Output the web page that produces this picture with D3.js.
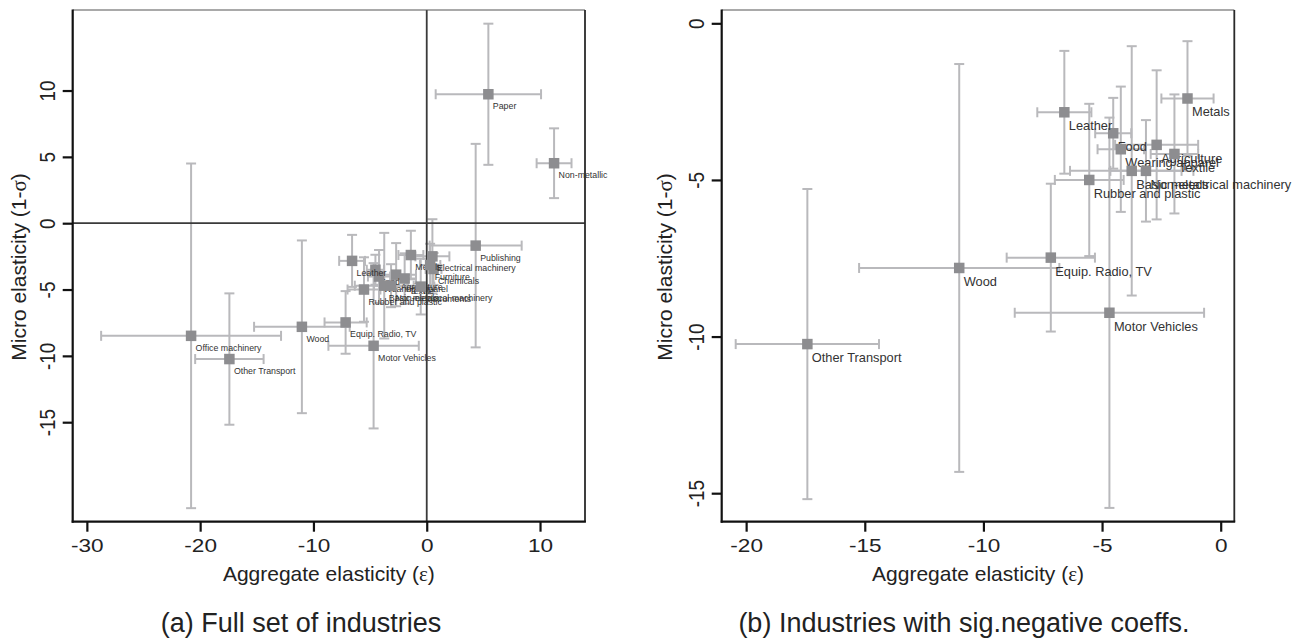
<!DOCTYPE html>
<html><head><meta charset="utf-8">
<script src="https://cdn.jsdelivr.net/npm/d3@7"></script>
<style>body{margin:0;background:#fff} svg{display:block}</style>
</head><body><svg id="chart" width="1305" height="638"></svg>
<script>
// ---- data ----
const industries = ["Agriculture","Food","Textile","Wearing apparel","Leather","Wood","Paper","Publishing",
  "Chemicals","Rubber and plastic","Non-metallic","Basic metals","Metals","Non-electrical machinery",
  "Office machinery","Electrical machinery","Equip. Radio, TV","Instruments","Motor Vehicles","Other Transport","Furniture"];
const aggElasticity   = [-2.70,-4.53,-1.95,-4.21,-6.59,-11.02, 5.44, 4.32, 0.60,-5.54,11.24,-3.75,-1.40,-3.15,-20.80, 0.50,-7.16,-0.53,-4.69,-17.42, 0.30];
const microElasticity = [-3.88,-3.51,-4.17,-4.02,-2.84, -7.81, 9.72,-1.69,-3.45,-5.00, 4.52,-4.71,-2.40,-4.71, -8.49,-2.50,-7.48,-4.78,-9.24,-10.24,-3.15];
const aggHalfCI       = [ 1.75, 0.76, 1.00, 0.98, 1.14,  4.22, 4.65, 4.06, 0.70, 1.45, 1.54, 2.60, 1.10, 1.50,  7.94, 1.50, 1.86, 1.20, 3.99,  3.02, 0.90];
const microHalfCI     = [ 2.38, 1.13, 1.90, 2.00, 1.96,  6.51, 5.32, 7.67, 1.20, 2.43, 2.63, 3.98, 1.83, 1.62, 12.99, 2.80, 2.36, 2.10, 6.23,  4.95, 1.60];
const sigNegative = ["Agriculture","Food","Textile","Wearing apparel","Leather","Wood","Rubber and plastic",
  "Basic metals","Metals","Non-electrical machinery","Equip. Radio, TV","Motor Vehicles","Other Transport"];

const xTicksA = [-30,-20,-10,0,10];
const yTicksA = [10,5,0,-5,-10,-15];
const xTicksB = [-20,-15,-10,-5,0];
const yTicksB = [0,-5,-10,-15];
const xDomainA = [-31.25, 13.97], yDomainA = [-22.5, 16.07];
const xDomainB = [-21.03, 0.573], yDomainB = [-15.91, 0.425];
const captionA = "(a) Full set of industries";
const captionB = "(b) Industries with sig.negative coeffs.";

const rows = industries.map((n,i)=>({name:n, x:aggElasticity[i], y:microElasticity[i], xh:aggHalfCI[i], yh:microHalfCI[i]}));

const svg = d3.select("#chart");
const FONT = "'Liberation Sans', Arial, Helvetica, sans-serif";
const BAR = "#b9b9bc", MARK = "#8d8d90", INK = "#222";

function panel(cfg){
  const {left,right,top,bottom} = cfg;
  const x = d3.scaleLinear().domain(cfg.xDomain).range([left,right]);
  const y = d3.scaleLinear().domain(cfg.yDomain).range([bottom,top]);
  const g = svg.append("g");
  const data = cfg.data;
  const cap = 5;

  // error bars
  const eb = g.append("g").attr("stroke",BAR).attr("stroke-width",2).attr("fill","none");
  data.forEach(d=>{
    const x0=x(d.x-d.xh), x1=x(d.x+d.xh), yy=y(d.y);
    const y0=y(d.y-d.yh), y1=y(d.y+d.yh), xx=x(d.x);
    eb.append("line").attr("x1",x0).attr("x2",x1).attr("y1",yy).attr("y2",yy);
    eb.append("line").attr("x1",x0).attr("x2",x0).attr("y1",yy-cap).attr("y2",yy+cap);
    eb.append("line").attr("x1",x1).attr("x2",x1).attr("y1",yy-cap).attr("y2",yy+cap);
    eb.append("line").attr("x1",xx).attr("x2",xx).attr("y1",y0).attr("y2",y1);
    eb.append("line").attr("x1",xx-cap).attr("x2",xx+cap).attr("y1",y0).attr("y2",y0);
    eb.append("line").attr("x1",xx-cap).attr("x2",xx+cap).attr("y1",y1).attr("y2",y1);
  });

  if(cfg.zeroLines){
    g.append("line").attr("x1",x(0)).attr("x2",x(0)).attr("y1",top).attr("y2",bottom)
      .attr("stroke","#3a3a3a").attr("stroke-width",1.8);
    g.append("line").attr("x1",left).attr("x2",right).attr("y1",y(0)).attr("y2",y(0))
      .attr("stroke","#3a3a3a").attr("stroke-width",1.8);
  }

  // markers with their labels, point by point
  const s = 10.5;
  const pts = g.append("g").selectAll("g").data(data).join("g");
  pts.append("rect")
    .attr("x",d=>x(d.x)-s/2).attr("y",d=>y(d.y)-s/2).attr("width",s).attr("height",s)
    .attr("fill",MARK);
  pts.append("text")
    .attr("x",d=>x(d.x)+cfg.labDx).attr("y",d=>y(d.y)+cfg.labDy)
    .attr("font-family",FONT).attr("font-size",cfg.labSize).attr("fill","#333")
    .text(d=>d.name);

  // frame
  g.append("line").attr("x1",left).attr("x2",right).attr("y1",top).attr("y2",top).attr("stroke","#555").attr("stroke-width",1.2);
  g.append("line").attr("x1",right).attr("x2",right).attr("y1",top).attr("y2",bottom).attr("stroke","#2a2a2a").attr("stroke-width",1.8);
  g.append("line").attr("x1",left).attr("x2",left).attr("y1",top-0.6).attr("y2",bottom+1).attr("stroke","#111").attr("stroke-width",2.2);
  g.append("line").attr("x1",left-1).attr("x2",right+0.9).attr("y1",bottom).attr("y2",bottom).attr("stroke","#111").attr("stroke-width",2.2);

  // axes
  const ax = g.append("g").attr("transform",`translate(0,${bottom})`)
    .call(d3.axisBottom(x).tickValues(cfg.xTicks).tickSize(10).tickSizeOuter(0).tickFormat(d3.format("d")));
  ax.select(".domain").remove();
  ax.selectAll(".tick line").attr("stroke","#111").attr("stroke-width",2.2);
  ax.selectAll(".tick text").attr("y",0).attr("dy",null)
    .attr("transform","translate(0,30) scale(1.2,1)")
    .attr("font-family",FONT).attr("font-size",18.8).attr("fill",INK).text(d=>d<0?"-"+Math.abs(d):d);

  const ay = g.append("g").attr("transform",`translate(${left},0)`)
    .call(d3.axisLeft(y).tickValues(cfg.yTicks).tickSize(10).tickSizeOuter(0));
  ay.select(".domain").remove();
  ay.selectAll(".tick line").attr("stroke","#111").attr("stroke-width",2.2);
  ay.selectAll(".tick text").attr("x",0).attr("y",0).attr("dy",null)
    .attr("text-anchor","middle")
    .attr("transform","translate(-17.7,0) scale(1.2,1) rotate(-90)")
    .attr("font-family",FONT).attr("font-size",18.8).attr("fill",INK).text(d=>d<0?"-"+Math.abs(d):d);

  // titles
  const xt = g.append("text").attr("x",(left+right)/2).attr("y",581).attr("text-anchor","middle")
    .attr("font-family",FONT).attr("font-size",21).attr("fill",INK);
  xt.append("tspan").text("Aggregate elasticity (");
  xt.append("tspan").attr("font-family","'Liberation Serif','DejaVu Serif',serif").text("ε");
  xt.append("tspan").text(")");
  const yt = g.append("text").attr("transform",`translate(${cfg.yTitleX},267) rotate(-90)`).attr("text-anchor","middle")
    .attr("font-family",FONT).attr("font-size",21).attr("fill",INK);
  yt.append("tspan").text("Micro elasticity (1-");
  yt.append("tspan").attr("font-family","'Liberation Serif','DejaVu Serif',serif").text("σ");
  yt.append("tspan").text(")");

  g.append("text").attr("x",cfg.capX).attr("y",632).attr("text-anchor","middle")
    .attr("font-family",FONT).attr("font-size",27).attr("fill",INK).text(cfg.caption);
}

panel({left:72.7,right:585,top:10,bottom:521.7,xDomain:xDomainA,yDomain:yDomainA,
  xTicks:xTicksA,yTicks:yTicksA,data:rows,zeroLines:true,labDx:4.5,labDy:15,labSize:8.8,
  yTitleX:26,capX:301,caption:captionA});
panel({left:721.7,right:1234.3,top:10,bottom:521.7,xDomain:xDomainB,yDomain:yDomainB,
  xTicks:xTicksB,yTicks:yTicksB,data:rows.filter(d=>sigNegative.includes(d.name)),zeroLines:false,
  labDx:4.5,labDy:18,labSize:12.8,yTitleX:672,capX:964,caption:captionB});
</script></body></html>
